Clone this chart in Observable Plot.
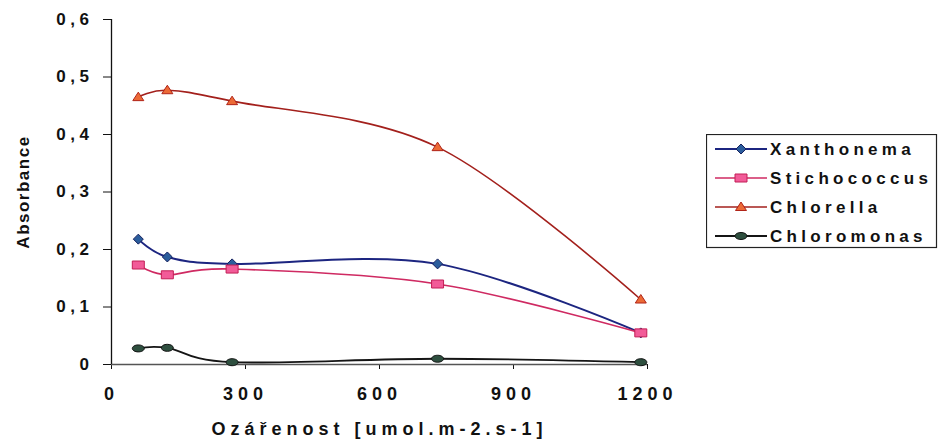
<!DOCTYPE html>
<html>
<head>
<meta charset="utf-8">
<script src="https://cdn.jsdelivr.net/npm/d3@7"></script>
<script src="https://cdn.jsdelivr.net/npm/@observablehq/plot@0.6"></script>
<style>
  html, body { margin: 0; padding: 0; background: #fff; }
  #wrap { position: relative; width: 938px; height: 444px; overflow: hidden; }
  #wrap svg { font-family: "Liberation Sans", Arial, sans-serif; }
  g[aria-label="y-axis tick label"] text { font-size: 17px; font-weight: bold; letter-spacing: 4.5px; fill: #111; }
  g[aria-label="x-axis tick label"] text { font-size: 18px; font-weight: bold; letter-spacing: 5px; fill: #111; }
  #legend { position: absolute; left: 706px; top: 134px; }
</style>
</head>
<body>
<div id="wrap"></div>
<script>
// ---- data ----
const xValues = [60, 125, 270, 730, 1185];
const xanthonema = [0.218, 0.187, 0.175, 0.175, 0.055];
const stichococcus = [0.173, 0.156, 0.166, 0.140, 0.055];
const chlorella = [0.465, 0.477, 0.458, 0.378, 0.113];
const chloromonas = [0.028, 0.029, 0.004, 0.010, 0.004];
const seriesNames = ["Xanthonema", "Stichococcus", "Chlorella", "Chloromonas"];
const xTicks = [0, 300, 600, 900, 1200];
const yTicks = [0, 0.1, 0.2, 0.3, 0.4, 0.5, 0.6];
const xTitle = "Ozářenost [umol.m-2.s-1]";
const yTitle = "Absorbance";

// ---- styles ----
const seriesValues = [xanthonema, stichococcus, chlorella, chloromonas];
function ellipsePath(ctx, rx, ry) {
  const k = 0.5523;
  ctx.moveTo(rx, 0);
  ctx.bezierCurveTo(rx, ry * k, rx * k, ry, 0, ry);
  ctx.bezierCurveTo(-rx * k, ry, -rx, ry * k, -rx, 0);
  ctx.bezierCurveTo(-rx, -ry * k, -rx * k, -ry, 0, -ry);
  ctx.bezierCurveTo(rx * k, -ry, rx, -ry * k, rx, 0);
  ctx.closePath();
}
const symDiamond = { draw(ctx) { ctx.moveTo(0, -5); ctx.lineTo(5, 0); ctx.lineTo(0, 5); ctx.lineTo(-5, 0); ctx.closePath(); } };
const symRect = { draw(ctx) { ctx.moveTo(-6, -4); ctx.lineTo(6, -4); ctx.lineTo(6, 4); ctx.lineTo(-6, 4); ctx.closePath(); } };
const symTri = { draw(ctx) { ctx.moveTo(0, -5); ctx.lineTo(5.5, 3.5); ctx.lineTo(-5.5, 3.5); ctx.closePath(); } };
const symEll = { draw(ctx) { ellipsePath(ctx, 6, 3.5); } };
const styles = [
  { line: "#1c2580", lw: 2, fill: "#2b5d9c", stroke: "#14205e", sym: symDiamond },
  { line: "#cf2a62", lw: 1.6, fill: "#f25b98", stroke: "#c21f56", sym: symRect },
  { line: "#a3201c", lw: 1.6, fill: "#ec6a36", stroke: "#b02418", sym: symTri },
  { line: "#151515", lw: 1.8, fill: "#2e4f3f", stroke: "#111", sym: symEll }
];

const rows = [];
seriesNames.forEach((name, i) => {
  xValues.forEach((x, j) => rows.push({ series: name, x, y: seriesValues[i][j] }));
});

const fmtY = d => d === 0 ? "0" : d.toFixed(1).replace(".", ",");
const fmtX = d => String(d);

const marks = [
  Plot.axisY({ ticks: yTicks, tickFormat: fmtY, tickSize: 8, tickPadding: 10, label: null }),
  Plot.axisX({ ticks: xTicks, tickFormat: fmtX, tickSize: 5, tickPadding: 18, label: null }),
  Plot.ruleY([0], { stroke: "#555", strokeWidth: 1.5 }),
  Plot.ruleX([0], { stroke: "#111", strokeWidth: 1.3 })
];
seriesNames.forEach((name, i) => {
  const d = rows.filter(r => r.series === name);
  const s = styles[i];
  marks.push(Plot.line(d, { x: "x", y: "y", stroke: s.line, strokeWidth: s.lw, curve: "cardinal" }));
});
seriesNames.forEach((name, i) => {
  const d = rows.filter(r => r.series === name);
  const s = styles[i];
  marks.push(Plot.dot(d, { x: "x", y: "y", symbol: s.sym, r: 5, fill: s.fill, stroke: s.stroke, strokeWidth: 1 }));
});
marks.push(Plot.text([yTitle], { frameAnchor: "left", textAnchor: "middle", lineAnchor: "middle", dx: -88, rotate: -90, fontSize: 17, fontWeight: "bold", fill: "#111" }));
marks.push(Plot.text([xTitle], { frameAnchor: "bottom", textAnchor: "middle", lineAnchor: "bottom", dy: 70, fontSize: 18, fontWeight: "bold", fill: "#111" }));

const chart = Plot.plot({
  width: 938, height: 444,
  marginLeft: 111, marginRight: 291, marginTop: 19, marginBottom: 80,
  x: { domain: [0, 1200] },
  y: { domain: [0, 0.6] },
  style: { background: "#fff", color: "#111", fontFamily: "'Liberation Sans', Arial, sans-serif" },
  marks
});
const wrap = document.getElementById("wrap");
wrap.appendChild(chart);
d3.select(chart).selectAll("text").filter(function () { return this.textContent === xTitle; })
  .style("letter-spacing", "5px");
d3.select(chart).selectAll("text").filter(function () { return this.textContent === yTitle; })
  .style("letter-spacing", "1.5px");

// ---- legend ----
const lg = d3.select(wrap).append("div").attr("id", "legend")
  .append("svg").attr("width", 232).attr("height", 115)
  .style("font-family", "'Liberation Sans', Arial, sans-serif");
lg.append("rect").attr("x", 0.5).attr("y", 0.5).attr("width", 230).attr("height", 113)
  .attr("fill", "#fff").attr("stroke", "#222").attr("stroke-width", 1.2);
seriesNames.forEach((name, i) => {
  const s = styles[i];
  const cy = 15 + i * 29;
  lg.append("line").attr("x1", 9).attr("x2", 61).attr("y1", cy).attr("y2", cy)
    .attr("stroke", s.line).attr("stroke-width", s.lw);
  lg.append("path").attr("d", d3.symbol(s.sym)()).attr("transform", `translate(35,${cy})`)
    .attr("fill", s.fill).attr("stroke", s.stroke).attr("stroke-width", 1);
  lg.append("text").attr("x", 64).attr("y", cy).attr("dy", "0.36em")
    .attr("font-size", 17).attr("font-weight", "bold").attr("fill", "#111")
    .style("letter-spacing", "4.3px").text(name);
});
</script>
</body>
</html>
